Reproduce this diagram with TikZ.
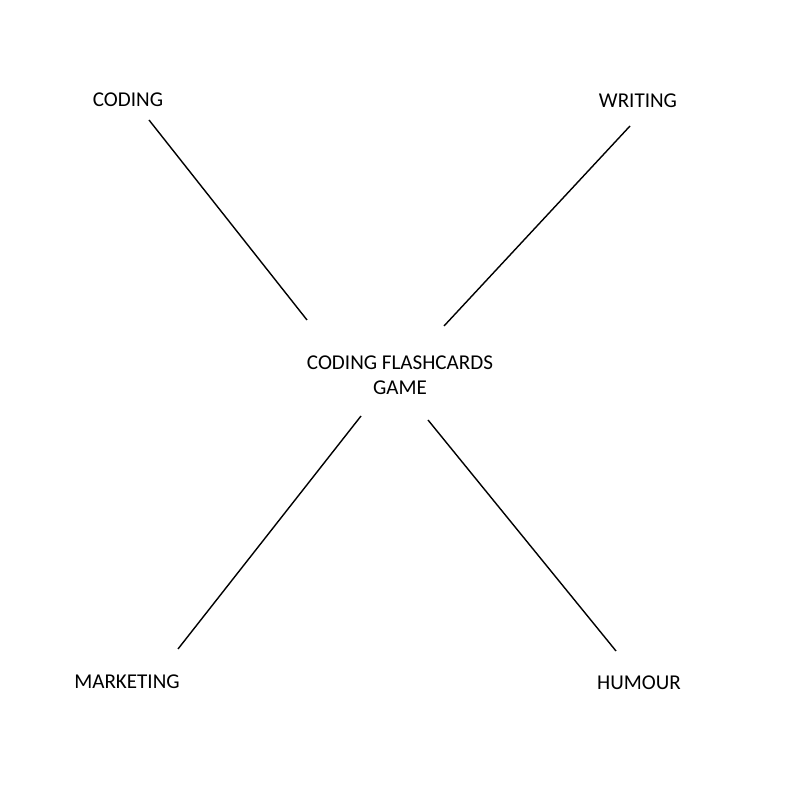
\documentclass[tikz,border=0pt]{standalone}
\usepackage{fontspec}
\setmainfont{Carlito}
\tikzset{topic/.style={font=\fontsize{6}{7.2}\selectfont,align=center}}
\begin{document}
\begin{tikzpicture}
        \useasboundingbox (0,0) rectangle (8,8);
        \node[topic] (coding) at (1.28,7.0) {CODING};
        \node[topic] (writing) at (6.38,6.99) {WRITING};
        \node[topic] (game) at (4.0,4.25) {CODING FLASHCARDS\\GAME};
        \node[topic] (marketing) at (1.27,1.18) {MARKETING};
        \node[topic] (humour) at (6.39,1.17) {HUMOUR};
        \coordinate (c1) at (1.49,6.80);
        \coordinate (c2) at (3.07,4.80);
        \coordinate (w1) at (6.30,6.74);
        \coordinate (w2) at (4.44,4.74);
        \coordinate (m1) at (3.61,3.84);
        \coordinate (m2) at (1.78,1.51);
        \coordinate (h1) at (4.28,3.80);
        \coordinate (h2) at (6.16,1.49);
        \draw (c1)--(c2);
        \draw (w1)--(w2);
        \draw (m1)--(m2);
        \draw (h1)--(h2);
\end{tikzpicture}
\end{document}
